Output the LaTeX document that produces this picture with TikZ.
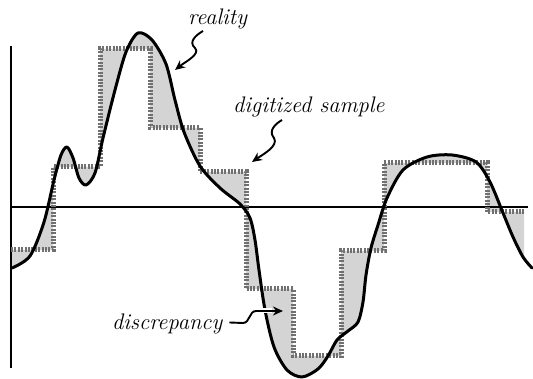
\documentclass[tikz,border=0pt]{standalone}
\usetikzlibrary{arrows.meta}
\definecolor{stairgray}{HTML}{707070}
\definecolor{fillgray}{HTML}{D4D4D4}
\begin{document}
\begin{tikzpicture}[x=1pt,y=-1pt,
  curve/.style={line width=3, line join=round, line cap=round},
  axisline/.style={line width=2},
  stair/.style={line width=5, draw=stairgray, dash pattern=on 2 off 1.4},
  lbl/.style={font=\fontsize{22.5}{26}\selectfont\itshape, inner sep=0},
  squig/.style={line width=1.9, -{Stealth[length=10,width=9]}},
]
\useasboundingbox (0,0) rectangle (533,379);
% shaded discrepancy
\begin{scope}
\clip (11,0) rectangle (524,379);
\fill[fillgray] plot[smooth] coordinates {(12,268) (30,256) (44,222) (54,180) (61,155) (67,147) (73,158) (79,178) (86,185) (95,173) (103,138) (115,90) (126,52) (138,33) (152,40) (166,64) (175,100) (184,132) (200,166) (220,188) (240,204) (250,218) (255,240) (259,270) (265,310) (274,347) (287,370) (302,377) (318,369) (328,356) (337,340) (348,331) (358,322) (363,302) (366,275) (371,248) (378,225) (387,198) (403,170) (427,157) (452,155) (476,162) (490,182) (503,213) (513,237) (523,257) (532,268)}
 -- (524,212) -- (487,212) -- (487,163) -- (384,163) -- (384,251) -- (341,251) -- (341,356) -- (293,356) -- (293,289) -- (246,289) -- (246,172) -- (200,172) -- (200,128) -- (150,128) -- (150,49) -- (100,49) -- (100,167) -- (53,167) -- (53,250) -- (11,250) -- cycle;
\end{scope}
% axes
\coordinate (vtop) at (11,46);
\coordinate (vbot) at (11,368);
\coordinate (hl) at (11,207);
\coordinate (hr) at (528,207);
\draw[axisline] (vtop) -- (vbot);
\draw[axisline] (hl) -- (hr);
% digitized staircase
\draw[stair] (11,250) -- (53,250) -- (53,167) -- (100,167) -- (100,49) -- (150,49) -- (150,128) -- (200,128) -- (200,172) -- (246,172) -- (246,289) -- (293,289) -- (293,356) -- (341,356) -- (341,251) -- (384,251) -- (384,163) -- (487,163) -- (487,212) -- (524,212);
% reality curve
\draw[curve] plot[smooth] coordinates {(12,268) (30,256) (44,222) (54,180) (61,155) (67,147) (73,158) (79,178) (86,185) (95,173) (103,138) (115,90) (126,52) (138,33) (152,40) (166,64) (175,100) (184,132) (200,166) (220,188) (240,204) (250,218) (255,240) (259,270) (265,310) (274,347) (287,370) (302,377) (318,369) (328,356) (337,340) (348,331) (358,322) (363,302) (366,275) (371,248) (378,225) (387,198) (403,170) (427,157) (452,155) (476,162) (490,182) (503,213) (513,237) (523,257) (532,268)};
% labels
\node[lbl, anchor=base west] (real) at (188,25) {reality};
\node[lbl, anchor=base west] (dig) at (233,113) {digitized sample};
\node[lbl, anchor=base west] (disc) at (112,330) {discrepancy};
\coordinate (realtip) at (175,70);
\coordinate (digtip) at (252,162);
\coordinate (disctip) at (283,311);
\draw[squig] (203,31) .. controls +(-7,4) and +(-7,-6) .. (195,48) .. controls +(6,6) and +(10,-8) .. (realtip);
\draw[squig] (282,120) .. controls +(-7,4) and +(-6,-7) .. (274,138) .. controls +(5,8) and +(10,-7) .. (digtip);
\draw[white, line width=5] (261,311) -- (272,311);
\draw[squig] ([xshift=7pt,yshift=2pt]disc.east) -- (243,323) .. controls (250,323) and (249,311) .. (256,311) -- (disctip);
\end{tikzpicture}
\end{document}
